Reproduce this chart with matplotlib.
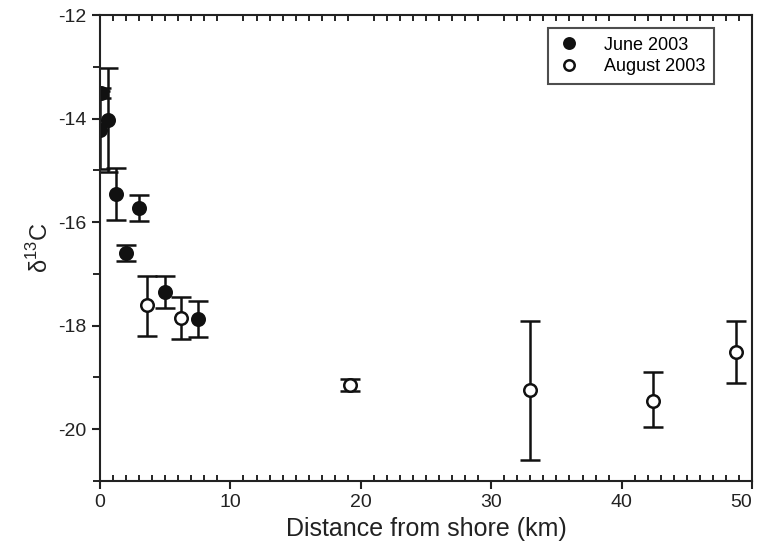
# Isótopos de carbono vs distancia a la costa

import numpy as np
import matplotlib
matplotlib.use("Agg")
import matplotlib.pyplot as plt
from matplotlib.ticker import MultipleLocator

# Datos
june_x = [0.1, 0.0, 0.6, 1.2, 2.0, 3.0, 5.0, 7.5]
june_y = [-13.5, -14.22, -14.03, -15.46, -16.6, -15.73, -17.35, -17.87]
june_err = [0.1, 0.75, 1.0, 0.5, 0.15, 0.25, 0.3, 0.35]

aug_x = [3.6, 6.2, 19.2, 33.0, 42.4, 48.8]
aug_y = [-17.6, -17.85, -19.15, -19.25, -19.45, -18.5]
aug_err_lo = [0.6, 0.4, 0.12, 1.35, 0.5, 0.6]
aug_err_hi = [0.55, 0.4, 0.12, 1.35, 0.55, 0.6]

x_ticks = [0, 10, 20, 30, 40, 50]
y_ticks = [-20, -18, -16, -14, -12]

plt.rcParams['font.family'] = ['Liberation Sans', 'DejaVu Sans']
plt.rcParams['mathtext.fontset'] = 'custom'
plt.rcParams['mathtext.rm'] = 'Liberation Sans'


def main():
    fig = plt.figure(figsize=(7.59, 5.52), dpi=100)
    ax = fig.add_axes([0.1318, 0.1286, 0.859, 0.8442])

    ebkw = dict(fmt='o', ms=9, elinewidth=1.8, capsize=7, capthick=1.8,
                ecolor='#111111', color='#111111', mew=1.8)
    ax.errorbar(aug_x, aug_y, yerr=[aug_err_lo, aug_err_hi], mfc='white',
                mec='#111111', label='August 2003', **ebkw)
    ax.errorbar(june_x, june_y, yerr=june_err, mfc='#111111',
                mec='#111111', label='June 2003', **ebkw)

    ax.set_xlim(0, 50)
    ax.set_ylim(-21, -12)
    ax.set_xticks(x_ticks)
    ax.set_yticks(y_ticks)
    ax.set_yticklabels([str(v) for v in y_ticks])
    ax.xaxis.set_minor_locator(MultipleLocator(1))
    ax.yaxis.set_minor_locator(MultipleLocator(1))

    ax.tick_params(axis='both', which='major', labelsize=14, direction='out',
                   length=6, width=1.5, colors='#222222')
    ax.tick_params(axis='x', which='minor', direction='in', length=4,
                   width=1.2, top=True, bottom=True)
    ax.tick_params(axis='y', which='minor', direction='out', length=5,
                   width=1.2, left=True, right=False)
    for s in ax.spines.values():
        s.set_linewidth(1.5)
        s.set_color('#222222')
    # la etiqueta "50" queda pegada al borde
    ax.get_xticklabels()[-1].set_horizontalalignment('right')

    ax.set_xlabel('Distance from shore (km)', fontsize=18, color='#222222',
                  labelpad=4)
    ax.set_ylabel(r'δ$^{13}$C', fontsize=17, color='#222222', labelpad=4)

    h, l = ax.get_legend_handles_labels()
    h = [hh[0] for hh in h]
    leg = ax.legend(h[::-1], l[::-1], loc='upper left', fontsize=13,
                    frameon=True, fancybox=False, edgecolor='#222222',
                    handlelength=1.3, handletextpad=1.3, borderpad=0.5,
                    labelspacing=0.25, borderaxespad=0,
                    bbox_to_anchor=(0.687, 0.973))
    leg.get_frame().set_linewidth(1.5)
    for hh in leg.legend_handles:
        hh.set_markersize(7.5)

    fig.savefig('out.png', dpi=100)


if __name__ == "__main__":
    main()
